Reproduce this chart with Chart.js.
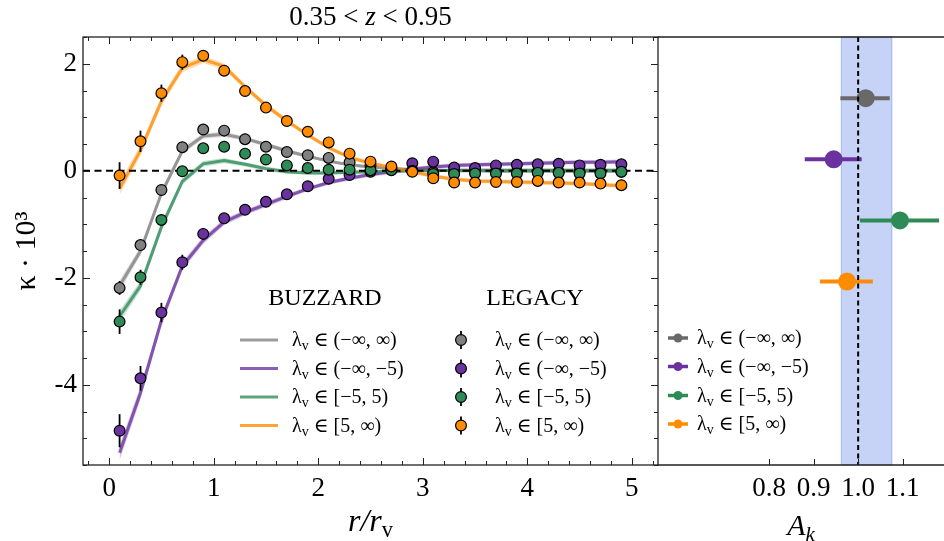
<!DOCTYPE html>
<html><head><meta charset="utf-8">
<script src="https://cdn.jsdelivr.net/npm/chart.js@4"></script>
<style>
html,body{margin:0;padding:0;background:#fff;overflow:hidden;}
#wrap{position:relative;width:944px;height:541px;}
#lbox{position:absolute;left:0;top:0;width:660px;height:541px;}
#rbox{position:absolute;left:658px;top:0;width:286px;height:541px;}
</style></head><body>
<div id="wrap">
<div id="lbox"><canvas id="left"></canvas></div>
<div id="rbox"><canvas id="right"></canvas></div>
</div>
<script>
// ---------------- DATA ----------------
const titleText = '0.35 < z < 0.95';
const rOverRv = [0.1,0.3,0.5,0.7,0.9,1.1,1.3,1.5,1.7,1.9,2.1,2.3,2.5,2.7,2.9,3.1,3.3,3.5,3.7,3.9,4.1,4.3,4.5,4.7,4.9];
const seriesLabels = ['λᵥ ∈ (−∞, ∞)', 'λᵥ ∈ (−∞, −5)', 'λᵥ ∈ [−5, 5)', 'λᵥ ∈ [5, ∞)'];

// BUZZARD (lines + bands)
const buzzAll  = [-2.15,-1.5,-0.42,0.37,0.65,0.68,0.6,0.49,0.37,0.27,0.18,0.11,0.07,0.04,0.02,0.01,0.0,0.0,-0.01,-0.01,-0.01,-0.01,-0.01,-0.01,-0.01];
const buzzVoid = [-5.27,-4.15,-2.8,-1.78,-1.3,-0.96,-0.78,-0.63,-0.48,-0.34,-0.22,-0.14,-0.07,-0.02,0.03,0.07,0.1,0.11,0.12,0.13,0.14,0.15,0.16,0.16,0.17];
const buzzMid  = [-2.72,-2.15,-1.05,-0.2,0.13,0.19,0.12,0.04,-0.02,-0.04,-0.04,-0.03,-0.02,-0.01,0.0,0.0,0.01,0.01,0.01,0.01,0.01,0.01,0.01,0.01,0.01];
const buzzWall = [-0.33,0.38,1.3,1.92,2.08,1.95,1.57,1.22,0.93,0.67,0.43,0.25,0.14,0.06,-0.02,-0.1,-0.16,-0.19,-0.2,-0.21,-0.22,-0.23,-0.24,-0.26,-0.28];
const bandAll  = [0.1,0.08,0.07,0.06,0.05,0.05,0.04,0.04,0.04,0.03,0.03,0.03,0.03,0.03,0.03,0.03,0.03,0.03,0.03,0.03,0.03,0.03,0.03,0.03,0.03];
const bandVoid = [0.14,0.12,0.1,0.08,0.07,0.06,0.05,0.05,0.05,0.04,0.04,0.04,0.04,0.04,0.04,0.04,0.04,0.04,0.04,0.04,0.04,0.04,0.04,0.04,0.04];
const bandMid  = [0.11,0.09,0.08,0.06,0.05,0.05,0.04,0.04,0.04,0.03,0.03,0.03,0.03,0.03,0.03,0.03,0.03,0.03,0.03,0.03,0.03,0.03,0.03,0.03,0.03];
const bandWall = [0.12,0.1,0.09,0.08,0.07,0.06,0.05,0.05,0.04,0.04,0.04,0.04,0.04,0.04,0.04,0.04,0.04,0.04,0.04,0.04,0.04,0.04,0.04,0.04,0.04];

// LEGACY (points + error bars)
const legAll  = [-2.19,-1.39,-0.36,0.44,0.77,0.75,0.59,0.45,0.35,0.29,0.24,0.16,0.1,0.04,0.0,-0.03,-0.02,-0.02,-0.02,-0.02,-0.02,-0.02,-0.02,-0.02,-0.02];
const legVoid = [-4.86,-3.88,-2.65,-1.71,-1.18,-0.89,-0.73,-0.58,-0.44,-0.29,-0.15,-0.08,-0.02,0.02,0.14,0.17,0.06,0.05,0.1,0.11,0.12,0.13,0.1,0.11,0.12];
const legMid  = [-2.82,-1.99,-0.92,-0.01,0.42,0.45,0.32,0.21,0.1,0.05,0.02,0.02,0.01,0.01,0.0,-0.06,-0.06,-0.05,-0.05,-0.05,-0.04,-0.04,-0.05,-0.05,-0.02];
const legWall = [-0.09,0.55,1.45,2.03,2.15,1.87,1.49,1.18,0.93,0.73,0.53,0.32,0.17,0.08,-0.02,-0.14,-0.22,-0.22,-0.21,-0.21,-0.19,-0.22,-0.22,-0.24,-0.27];
const errAll  = [0.13,0.1,0.08,0.07,0.06,0.05,0.05,0.04,0.04,0.04,0.04,0.04,0.04,0.04,0.04,0.04,0.04,0.04,0.04,0.04,0.04,0.04,0.04,0.04,0.04];
const errVoid = [0.31,0.23,0.18,0.14,0.11,0.09,0.07,0.06,0.05,0.05,0.04,0.04,0.04,0.04,0.04,0.04,0.04,0.04,0.04,0.04,0.04,0.04,0.04,0.04,0.04];
const errMid  = [0.23,0.14,0.1,0.08,0.07,0.06,0.05,0.05,0.04,0.04,0.04,0.04,0.04,0.04,0.04,0.04,0.04,0.04,0.04,0.04,0.04,0.04,0.04,0.04,0.04];
const errWall = [0.25,0.2,0.16,0.14,0.1,0.08,0.07,0.06,0.05,0.05,0.04,0.04,0.04,0.04,0.04,0.04,0.04,0.04,0.04,0.04,0.04,0.04,0.04,0.04,0.04];

const xTickValues = [0,1,2,3,4,5];
const yTickValues = [-4,-2,0,2];

// Right panel: A_k
const akRow    = [1,2,3,4];
const akCenter = [1.017,0.945,1.094,0.975];
const akLow    = [0.960,0.880,1.004,0.914];
const akHigh   = [1.071,1.008,1.182,1.033];
const akBand   = [0.962,1.076];
const akRef    = 1.0;
const akTickValues = [0.8,0.9,1.0,1.1];

// ---------------- STYLE ----------------
const FAM = "'Liberation Serif','DejaVu Serif',serif";
const ptColors   = ['#808080','#6a329f','#2e8b57','#ff8c00'];
const lineColors = ['rgba(128,128,128,0.78)','rgba(106,50,159,0.78)','rgba(46,139,87,0.78)','rgba(255,140,0,0.78)'];
const bandColors = ['rgba(128,128,128,0.28)','rgba(106,50,159,0.28)','rgba(46,139,87,0.28)','rgba(255,140,0,0.28)'];
const akColors   = ['#696969','#6a329f','#2e8b57','#ff8c00'];
const FRAME = '#222';

Chart.defaults.font.family = FAM;
Chart.defaults.color = '#000';

function drawRich(ctx, parts, x, y, size, align) {
  let total = 0; const m = [];
  for (const p of parts) {
    const fs = (p.sub || p.sup) ? size * 0.7 : size;
    const font = (p.it ? 'italic ' : '') + fs.toFixed(1) + 'px ' + FAM;
    ctx.font = font;
    const w = ctx.measureText(p.t).width;
    m.push({font, w, dy: p.sub ? size * 0.2 : (p.sup ? -size * 0.38 : 0)});
    total += w;
  }
  let cx = align === 'center' ? x - total / 2 : (align === 'right' ? x - total : x);
  ctx.textAlign = 'left'; ctx.textBaseline = 'alphabetic';
  parts.forEach((p, i) => { ctx.font = m[i].font; ctx.fillText(p.t, cx, y + m[i].dy); cx += m[i].w; });
}
function labelParts(label) {
  const k = label.indexOf('ᵥ');
  if (k < 0) return [{t: label}];
  return [{t: label.slice(0, k)}, {t: 'v', sub: true}, {t: label.slice(k + 1)}];
}
function titleParts(s) {
  const k = s.indexOf('z');
  return [{t: s.slice(0, k)}, {t: 'z', it: true}, {t: s.slice(k + 1)}];
}

// ---------------- LEFT CHART ----------------
const buzz = [buzzAll, buzzVoid, buzzMid, buzzWall];
const bands = [bandAll, bandVoid, bandMid, bandWall];
const leg = [legAll, legVoid, legMid, legWall];
const errs = [errAll, errVoid, errMid, errWall];

const leftDatasets = [];
for (let i = 0; i < 4; i++) {
  leftDatasets.push({label: 'BUZZARD band low ' + seriesLabels[i], data: rOverRv.map((x, j) => ({x, y: buzz[i][j] - bands[i][j]})),
    borderWidth: 0, pointRadius: 0, fill: false, order: 40 + i});
  leftDatasets.push({label: 'BUZZARD band high ' + seriesLabels[i], data: rOverRv.map((x, j) => ({x, y: buzz[i][j] + bands[i][j]})),
    borderWidth: 0, pointRadius: 0, fill: '-1', backgroundColor: bandColors[i], order: 40 + i});
  leftDatasets.push({label: 'BUZZARD ' + seriesLabels[i], data: rOverRv.map((x, j) => ({x, y: buzz[i][j]})),
    borderColor: lineColors[i], borderWidth: 3, pointRadius: 0, fill: false, order: 30 - i});
}
leftDatasets.push({label: 'zero', data: [{x: -0.25, y: 0}, {x: 5.25, y: 0}], borderColor: '#000', borderWidth: 2,
  borderDash: [7, 4.5], pointRadius: 0, fill: false, order: 10});
for (let i = 0; i < 4; i++) {
  leftDatasets.push({label: 'LEGACY ' + seriesLabels[i], data: rOverRv.map((x, j) => ({x, y: leg[i][j]})),
    showLine: false, pointRadius: 5.4, pointBackgroundColor: ptColors[i], pointBorderColor: '#000', pointBorderWidth: 1.2,
    errY: errs[i], order: 3 - i});
}

const leftDeco = {
  id: 'leftDeco',
  beforeDatasetDraw(chart, args) {
    const ds = chart.data.datasets[args.index];
    if (!ds.errY) return;
    const ctx = chart.ctx, xs = chart.scales.x, ys = chart.scales.y;
    ctx.save(); ctx.strokeStyle = '#000'; ctx.lineWidth = 1.8;
    ds.data.forEach((p, j) => {
      const px = xs.getPixelForValue(p.x);
      ctx.beginPath();
      ctx.moveTo(px, ys.getPixelForValue(p.y - ds.errY[j]));
      ctx.lineTo(px, ys.getPixelForValue(p.y + ds.errY[j]));
      ctx.stroke();
    });
    ctx.restore();
  },
  afterDatasetsDraw(chart) {
    const ctx = chart.ctx, xs = chart.scales.x, ys = chart.scales.y;
    const {left, right, top, bottom} = chart.chartArea;
    ctx.save();
    ctx.strokeStyle = FRAME; ctx.lineWidth = 1.3;
    ctx.strokeRect(left, top, right - left, bottom - top);
    ctx.lineWidth = 1;
    ctx.beginPath();
    for (let k = -1; k <= 26; k++) {
      const v = k * 0.2; if (v < xs.min || v > xs.max) continue;
      const major = Math.abs(v - Math.round(v)) < 1e-6;
      const L = major ? 7 : 4, px = Math.round(xs.getPixelForValue(v)) + 0.5;
      ctx.moveTo(px, bottom); ctx.lineTo(px, bottom - L);
      ctx.moveTo(px, top); ctx.lineTo(px, top + L);
    }
    for (let k = -11; k <= 5; k++) {
      const v = k * 0.5; if (v < ys.min || v > ys.max) continue;
      const major = Math.abs(v / 2 - Math.round(v / 2)) < 1e-6;
      const L = major ? 7 : 4, py = Math.round(ys.getPixelForValue(v)) + 0.5;
      ctx.moveTo(left, py); ctx.lineTo(left + L, py);
      ctx.moveTo(right, py); ctx.lineTo(right - L, py);
    }
    ctx.stroke();
    ctx.restore();
  },
  afterDraw(chart) {
    const ctx = chart.ctx;
    const {left, right} = chart.chartArea;
    ctx.save();
    ctx.fillStyle = '#000';
    drawRich(ctx, titleParts(titleText), (left + right) / 2, 25, 27, 'center');
    drawRich(ctx, [{t: 'r/r', it: true}, {t: 'v', sub: true}], (left + right) / 2, 531, 32, 'center');
    // legends
    drawRich(ctx, [{t: 'BUZZARD'}], 325, 305, 24, 'center');
    drawRich(ctx, [{t: 'LEGACY'}], 535, 305, 24, 'center');
    const rows = [340, 368.5, 397, 425.5];
    rows.forEach((y, i) => {
      ctx.strokeStyle = lineColors[i]; ctx.lineWidth = 3;
      ctx.beginPath(); ctx.moveTo(240, y); ctx.lineTo(278, y); ctx.stroke();
      ctx.fillStyle = '#000';
      drawRich(ctx, labelParts(seriesLabels[i]), 292, y + 6, 20, 'left');
      ctx.strokeStyle = '#000'; ctx.lineWidth = 1.8;
      ctx.beginPath(); ctx.moveTo(461, y - 9); ctx.lineTo(461, y + 9); ctx.stroke();
      ctx.beginPath(); ctx.arc(461, y, 5.4, 0, Math.PI * 2);
      ctx.fillStyle = ptColors[i]; ctx.fill(); ctx.lineWidth = 1.2; ctx.stroke();
      ctx.fillStyle = '#000';
      drawRich(ctx, labelParts(seriesLabels[i]), 495, y + 6, 20, 'left');
    });
    ctx.restore();
  }
};

new Chart(document.getElementById('left'), {
  type: 'line',
  data: {datasets: leftDatasets},
  options: {
    responsive: true, maintainAspectRatio: false, animation: false, events: [],
    layout: {autoPadding: false, padding: {top: 37, right: 2, left: 0, bottom: 0}},
    plugins: {legend: {display: false}, tooltip: {enabled: false}, title: {display: false}},
    scales: {
      x: {type: 'linear', min: -0.25, max: 5.25,
        grid: {display: false, drawTicks: false}, border: {display: false},
        ticks: {font: {size: 27}, padding: 8, autoSkip: false, maxRotation: 0, color: '#000'},
        afterBuildTicks: s => { s.ticks = xTickValues.map(v => ({value: v})); },
        afterFit: s => { s.height = 76; }},
      y: {type: 'linear', min: -5.5, max: 2.5,
        grid: {display: false, drawTicks: false}, border: {display: false},
        ticks: {font: {size: 27}, padding: 6, color: '#000', callback: v => String(v)},
        afterBuildTicks: s => { s.ticks = yTickValues.map(v => ({value: v})); },
        title: {display: true, text: 'κ · 10³', font: {size: 30}, padding: {top: 9, bottom: 0}, color: '#000'},
        afterFit: s => { s.width = 83; }}
    }
  },
  plugins: [leftDeco]
});

// ---------------- RIGHT CHART ----------------
const rightDatasets = akCenter.map((c, i) => ({
  label: seriesLabels[i], data: [{x: c, y: akRow[i]}], showLine: false,
  pointRadius: 9, pointBackgroundColor: akColors[i], pointBorderWidth: 0, pointBorderColor: akColors[i],
  errX: [akLow[i], akHigh[i]], errColor: akColors[i], order: i
}));

const rightDeco = {
  id: 'rightDeco',
  beforeDatasetsDraw(chart) {
    const ctx = chart.ctx, xs = chart.scales.x;
    const {top, bottom} = chart.chartArea;
    const x1 = xs.getPixelForValue(akBand[0]), x2 = xs.getPixelForValue(akBand[1]);
    ctx.save();
    ctx.fillStyle = 'rgba(65,105,225,0.3)';
    ctx.fillRect(x1, top, x2 - x1, bottom - top);
    ctx.strokeStyle = 'rgba(65,105,225,0.35)'; ctx.lineWidth = 1;
    ctx.strokeRect(x1, top, x2 - x1, bottom - top);
    ctx.restore();
  },
  beforeDatasetDraw(chart, args) {
    const ds = chart.data.datasets[args.index];
    if (!ds.errX) return;
    const ctx = chart.ctx, xs = chart.scales.x, ys = chart.scales.y;
    const py = ys.getPixelForValue(ds.data[0].y);
    ctx.save(); ctx.strokeStyle = ds.errColor; ctx.lineWidth = 4;
    ctx.beginPath(); ctx.moveTo(xs.getPixelForValue(ds.errX[0]), py); ctx.lineTo(xs.getPixelForValue(ds.errX[1]), py); ctx.stroke();
    ctx.restore();
  },
  afterDatasetsDraw(chart) {
    const ctx = chart.ctx, xs = chart.scales.x;
    const {left, right, top, bottom} = chart.chartArea;
    ctx.save();
    const rx = xs.getPixelForValue(akRef);
    ctx.strokeStyle = '#000'; ctx.lineWidth = 2; ctx.setLineDash([5, 3.5]);
    ctx.beginPath(); ctx.moveTo(rx, top); ctx.lineTo(rx, bottom); ctx.stroke();
    ctx.setLineDash([]);
    ctx.strokeStyle = FRAME; ctx.lineWidth = 1.3;
    ctx.beginPath(); ctx.moveTo(0, top); ctx.lineTo(chart.width, top);
    ctx.moveTo(0, bottom); ctx.lineTo(chart.width, bottom); ctx.stroke();
    ctx.lineWidth = 1;
    ctx.beginPath();
    akTickValues.forEach(v => { const px = Math.round(xs.getPixelForValue(v)) + 0.5; ctx.moveTo(px, bottom); ctx.lineTo(px, bottom - 6); });
    ctx.stroke();
    ctx.restore();
  },
  afterDraw(chart) {
    const ctx = chart.ctx;
    const {left, right} = chart.chartArea;
    ctx.save();
    const rows = [338, 366.5, 395.5, 424];
    rows.forEach((y, i) => {
      ctx.strokeStyle = akColors[i]; ctx.lineWidth = 3.5;
      ctx.beginPath(); ctx.moveTo(10, y); ctx.lineTo(30, y); ctx.stroke();
      ctx.fillStyle = akColors[i];
      ctx.beginPath(); ctx.arc(20, y, 4.5, 0, Math.PI * 2); ctx.fill();
      ctx.fillStyle = '#000';
      drawRich(ctx, labelParts(seriesLabels[i]), 39, y + 6, 20, 'left');
    });
    ctx.fillStyle = '#000';
    drawRich(ctx, [{t: 'A', it: true}, {t: 'k', it: true, sub: true}], (left + right) / 2, 535, 30, 'center');
    ctx.restore();
  }
};

new Chart(document.getElementById('right'), {
  type: 'line',
  data: {datasets: rightDatasets},
  options: {
    responsive: true, maintainAspectRatio: false, animation: false, events: [],
    layout: {autoPadding: false, padding: {top: 37, right: 0, left: 0, bottom: 0}},
    plugins: {legend: {display: false}, tooltip: {enabled: false}, title: {display: false}},
    scales: {
      x: {type: 'linear', min: 0.55, max: 1.193,
        grid: {display: false, drawTicks: false}, border: {display: false},
        ticks: {font: {size: 27}, padding: 8, autoSkip: false, maxRotation: 0, color: '#000', callback: v => Number(v).toFixed(1)},
        afterBuildTicks: s => { s.ticks = akTickValues.map(v => ({value: v})); },
        afterFit: s => { s.height = 76; }},
      y: {type: 'linear', min: 0, max: 7, reverse: true, display: false}
    }
  },
  plugins: [rightDeco]
});
</script>
</body></html>
